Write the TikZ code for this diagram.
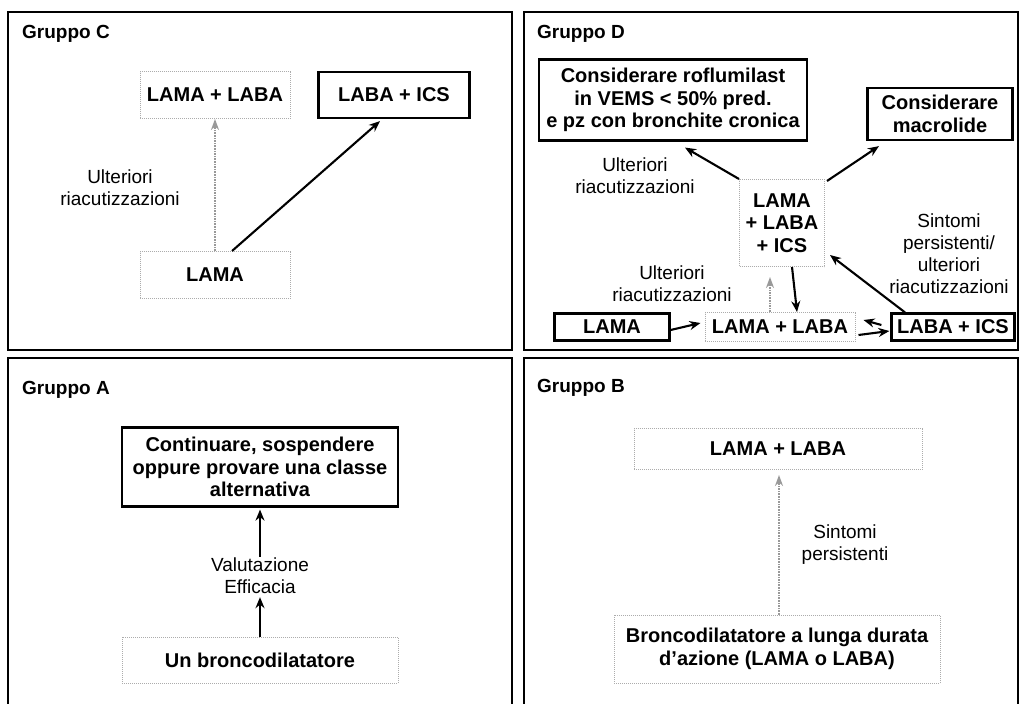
\documentclass[tikz,border=0pt]{standalone}
\usepackage{fontspec}
\setmainfont{Liberation Sans}
\usetikzlibrary{arrows.meta}
\begin{document}
\begin{tikzpicture}[x=1pt,y=-1pt,
 panel/.style={draw, line width=1.6pt},
 title/.style={font=\fontsize{19}{22}\selectfont\bfseries, anchor=base west, inner sep=0pt},
 solidbox/.style={draw, line width=2.2pt, font=\fontsize{20}{22.5}\selectfont\bfseries, align=center, inner sep=0pt},
 dotbox/.style={draw=gray!65, densely dotted, line width=1pt, font=\fontsize{20}{22.5}\selectfont\bfseries, align=center, inner sep=0pt},
 lbl/.style={font=\fontsize{19}{22}\selectfont, align=center, inner sep=1pt},
 arr/.style={-{Stealth[length=11pt,width=9pt]}, line width=2.1pt},
 dotarr/.style={-{Stealth[length=11pt,width=8pt]}, draw=gray!80, densely dotted, line width=1.6pt}]
\useasboundingbox[fill=white] (0,0) rectangle (1021,704);

% panels
\draw[panel] (8,12) rectangle (512,350);
\draw[panel] (524,12) rectangle (1018,350);
\draw[panel] (8,706) -- (8,358) -- (512,358) -- (512,706);
\draw[panel] (524,706) -- (524,358) -- (1018,358) -- (1018,706);

% titles
\node[title] (tC) at (22,38) {Gruppo C};
\node[title] (tD) at (537,38) {Gruppo D};
\node[title] (tA) at (22,394) {Gruppo A};
\node[title] (tB) at (537,392) {Gruppo B};

% ---- Gruppo C
\node[dotbox, minimum width=150pt, minimum height=47pt] (cLL) at (215,95) {LAMA + LABA};
\node[solidbox, minimum width=151pt, minimum height=46pt] (cLI) at (394,95) {LABA + ICS};
\node[dotbox, minimum width=150pt, minimum height=47pt] (cL) at (215,275) {LAMA};
\node[lbl] (cU) at (120,188) {Ulteriori\\riacutizzazioni};
\draw[dotarr] (cL.north) -- (cLL.south);
\draw[arr] ([xshift=17pt]cL.north) -- ([xshift=-14pt,yshift=-2pt]cLI.south);

% ---- Gruppo D
\node[solidbox, minimum width=268pt, minimum height=81pt] (dR) at (673,100) {Considerare roflumilast\\in VEMS < 50\% pred.\\e pz con bronchite cronica};
\node[solidbox, minimum width=145pt, minimum height=52pt] (dM) at (940,114) {Considerare\\macrolide};
\node[dotbox, minimum width=85pt, minimum height=87pt] (dC) at (782,223) {LAMA\\+ LABA\\+ ICS};
\node[lbl] (dU1) at (635,176) {Ulteriori\\riacutizzazioni};
\node[lbl] (dS) at (949,254) {Sintomi\\persistenti/\\ulteriori\\riacutizzazioni};
\node[lbl] (dU2) at (672,284) {Ulteriori\\riacutizzazioni};
\node[solidbox, minimum width=115pt, minimum height=27pt] (dL) at (612,327) {LAMA};
\node[dotbox, minimum width=150pt, minimum height=29pt] (dLL) at (780,327) {LAMA + LABA};
\node[solidbox, minimum width=123pt, minimum height=27pt] (dLI) at (953,327) {LABA + ICS};

\draw[arr] (dC.north west) -- ([xshift=12pt,yshift=-6pt]dR.south);
\draw[arr] ([xshift=2pt,yshift=-2pt]dC.north east) -- ([xshift=-61pt,yshift=-5pt]dM.south);
\draw[arr] ([xshift=-48pt]dLI.north) -- ([xshift=5pt,yshift=12pt]dC.south east);
\draw[arr] ([yshift=-3pt]dL.east) -- ([xshift=-4pt,yshift=4pt]dLL.west);
\draw[dotarr, shorten >=10pt] ([xshift=-10pt]dLL.north) -- ([xshift=-12pt]dC.south);
\draw[arr] ([xshift=10pt]dC.south) -- ([xshift=17pt]dLL.north);
\draw[arr] ([xshift=-9pt,yshift=2pt]dLI.west) -- ([xshift=8pt,yshift=7pt]dLL.east);
\draw[arr] ([xshift=3pt,yshift=-8pt]dLL.east) -- ([xshift=-1pt,yshift=-4pt]dLI.west);

% ---- Gruppo A
\node[solidbox, minimum width=276pt, minimum height=79pt] (aC) at (260,467) {Continuare, sospendere\\oppure provare una classe\\alternativa};
\node[lbl] (aV) at (260,576) {Valutazione\\Efficacia};
\node[dotbox, minimum width=276pt, minimum height=46pt] (aU) at (260,660) {Un broncodilatatore};
\draw[arr, shorten >=2pt] (aV.north) -- (aC.south);
\draw[arr, shorten >=2pt] (aU.north) -- (aV.south);

% ---- Gruppo B
\node[dotbox, minimum width=288pt, minimum height=41pt] (bLL) at (778,449) {LAMA + LABA};
\node[dotbox, minimum width=326pt, minimum height=68pt] (bB) at (777,649) {Broncodilatatore a lunga durata\\d'azione (LAMA o LABA)};
\node[lbl] (bS) at (845,545) {Sintomi\\persistenti};
\draw[dotarr, shorten >=5pt] ([xshift=2pt]bB.north) -- ([xshift=1pt]bLL.south);
\end{tikzpicture}
\end{document}
